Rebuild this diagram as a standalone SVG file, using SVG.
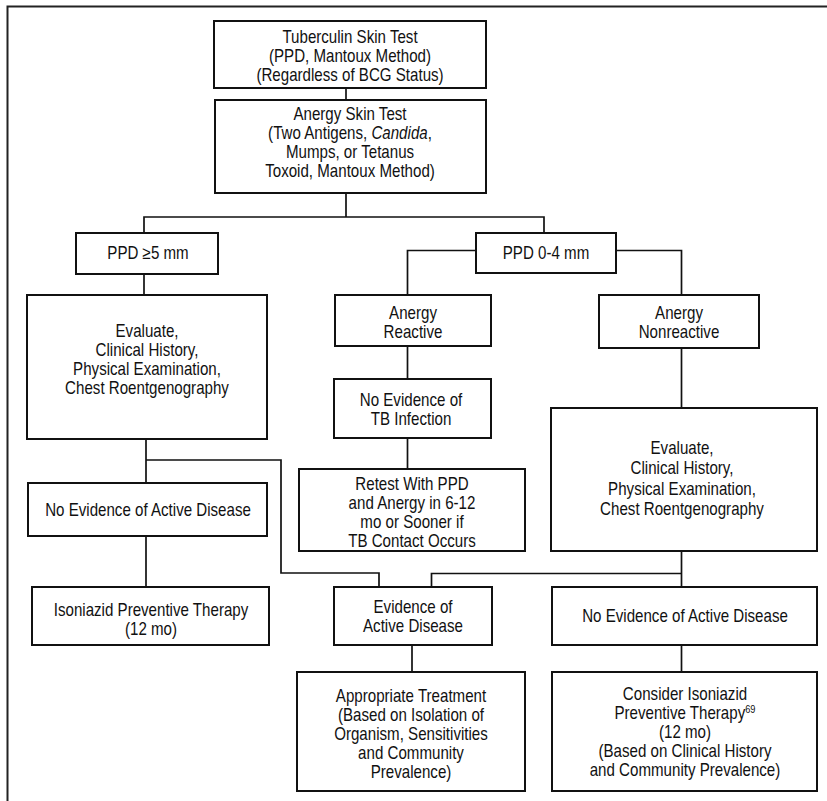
<svg xmlns="http://www.w3.org/2000/svg" width="827" height="801" viewBox="0 0 827 801">
<style>
.bg{fill:#ffffff}
.box{fill:#ffffff;stroke:#111;stroke-width:2}
.frame{fill:none;stroke:#222;stroke-width:2}
.conn{fill:none;stroke:#111;stroke-width:1.7}
.t{font-family:"Liberation Sans",Arial,Helvetica,sans-serif;font-size:18px;fill:#111;text-anchor:middle}
.sup{font-size:11px}
</style>
<rect class="bg" x="0" y="0" width="827" height="801"/>
<g id="frame">
<path class="frame" d="M7.5,801 L7.5,6.5 L827,6.5"/>
</g>
<g id="connectors">
<path class="conn" d="M346,88 V100"/>
<path class="conn" d="M346,193 V217 M144,233 V217 H544 V233"/>
<path class="conn" d="M144,274 V295"/>
<path class="conn" d="M476,250.5 H407.5 V295"/>
<path class="conn" d="M616,250.5 H681.5 V295"/>
<path class="conn" d="M407.5,346 V379"/>
<path class="conn" d="M407.5,438 V469"/>
<path class="conn" d="M681.5,348 V408"/>
<path class="conn" d="M146,439 V483 M146,460 H281 V573 H379 V587"/>
<path class="conn" d="M146,536 V587"/>
<path class="conn" d="M681.5,551 V587 M681.5,573.5 H431.5 V587"/>
<path class="conn" d="M412,645 V672"/>
<path class="conn" d="M681.5,645 V672"/>
</g>
<g id="n-tuberculin">
<rect class="box" x="214" y="21" width="272" height="67"/>
<text class="t" transform="translate(350,0) scale(0.84,1)"><tspan x="0" y="43">Tuberculin Skin Test</tspan><tspan x="0" y="62">(PPD, Mantoux Method)</tspan><tspan x="0" y="81">(Regardless of BCG Status)</tspan></text>
</g>
<g id="n-anergy-test">
<rect class="box" x="215" y="100" width="271" height="93"/>
<text class="t" transform="translate(350,0) scale(0.84,1)"><tspan x="0" y="120">Anergy Skin Test</tspan><tspan x="0" y="139">(Two Antigens, <tspan font-style="italic">Candida</tspan>,</tspan><tspan x="0" y="158">Mumps, or Tetanus</tspan><tspan x="0" y="177">Toxoid, Mantoux Method)</tspan></text>
</g>
<g id="n-ppd5">
<rect class="box" x="76" y="233" width="142" height="41"/>
<text class="t" transform="translate(148,0) scale(0.84,1)"><tspan x="0" y="259.5">PPD ≥5 mm</tspan></text>
</g>
<g id="n-ppd04">
<rect class="box" x="476" y="233" width="140" height="40"/>
<text class="t" transform="translate(546,0) scale(0.84,1)"><tspan x="0" y="259">PPD 0-4 mm</tspan></text>
</g>
<g id="n-evaluate-left">
<rect class="box" x="27" y="295" width="240" height="144"/>
<text class="t" transform="translate(147,0) scale(0.84,1)"><tspan x="0" y="337.5">Evaluate,</tspan><tspan x="0" y="356.5">Clinical History,</tspan><tspan x="0" y="375.5">Physical Examination,</tspan><tspan x="0" y="394.5">Chest Roentgenography</tspan></text>
</g>
<g id="n-anergy-reactive">
<rect class="box" x="335" y="295" width="156" height="51"/>
<text class="t" transform="translate(413,0) scale(0.84,1)"><tspan x="0" y="319">Anergy</tspan><tspan x="0" y="338">Reactive</tspan></text>
</g>
<g id="n-anergy-nonreactive">
<rect class="box" x="599" y="295" width="160" height="53"/>
<text class="t" transform="translate(679,0) scale(0.84,1)"><tspan x="0" y="319.5">Anergy</tspan><tspan x="0" y="338.5">Nonreactive</tspan></text>
</g>
<g id="n-no-tb">
<rect class="box" x="334" y="379" width="157" height="59"/>
<text class="t" transform="translate(411,0) scale(0.84,1)"><tspan x="0" y="406.5">No Evidence of</tspan><tspan x="0" y="425.5">TB Infection</tspan></text>
</g>
<g id="n-retest">
<rect class="box" x="299" y="469" width="226" height="82"/>
<text class="t" transform="translate(412,0) scale(0.84,1)"><tspan x="0" y="490">Retest With PPD</tspan><tspan x="0" y="509">and Anergy in 6-12</tspan><tspan x="0" y="528">mo or Sooner if</tspan><tspan x="0" y="547">TB Contact Occurs</tspan></text>
</g>
<g id="n-evaluate-right">
<rect class="box" x="551" y="408" width="266" height="143"/>
<text class="t" transform="translate(682,0) scale(0.84,1)"><tspan x="0" y="454">Evaluate,</tspan><tspan x="0" y="474.5">Clinical History,</tspan><tspan x="0" y="495">Physical Examination,</tspan><tspan x="0" y="515.5">Chest Roentgenography</tspan></text>
</g>
<g id="n-no-active-left">
<rect class="box" x="28" y="483" width="239" height="53"/>
<text class="t" transform="translate(148,0) scale(0.84,1)"><tspan x="0" y="516">No Evidence of Active Disease</tspan></text>
</g>
<g id="n-isoniazid">
<rect class="box" x="32" y="587" width="237" height="58"/>
<text class="t" transform="translate(151,0) scale(0.84,1)"><tspan x="0" y="616">Isoniazid Preventive Therapy</tspan><tspan x="0" y="635">(12 mo)</tspan></text>
</g>
<g id="n-evidence-active">
<rect class="box" x="334" y="587" width="158" height="58"/>
<text class="t" transform="translate(413,0) scale(0.84,1)"><tspan x="0" y="613.5">Evidence of</tspan><tspan x="0" y="632.5">Active Disease</tspan></text>
</g>
<g id="n-no-active-right">
<rect class="box" x="552" y="587" width="265" height="58"/>
<text class="t" transform="translate(685,0) scale(0.84,1)"><tspan x="0" y="622.5">No Evidence of Active Disease</tspan></text>
</g>
<g id="n-treatment">
<rect class="box" x="297" y="672" width="228" height="119"/>
<text class="t" transform="translate(411,0) scale(0.84,1)"><tspan x="0" y="702">Appropriate Treatment</tspan><tspan x="0" y="721">(Based on Isolation of</tspan><tspan x="0" y="740.5">Organism, Sensitivities</tspan><tspan x="0" y="759.5">and Community</tspan><tspan x="0" y="778.5">Prevalence)</tspan></text>
</g>
<g id="n-consider">
<rect class="box" x="552" y="672" width="265" height="119"/>
<text class="t" transform="translate(685,0) scale(0.84,1)"><tspan x="0" y="700">Consider Isoniazid</tspan><tspan x="0" y="719">Preventive Therapy<tspan class="sup" dy="-6">69</tspan></tspan><tspan x="0" y="738">(12 mo)</tspan><tspan x="0" y="757">(Based on Clinical History</tspan><tspan x="0" y="776">and Community Prevalence)</tspan></text>
</g>
</svg>
